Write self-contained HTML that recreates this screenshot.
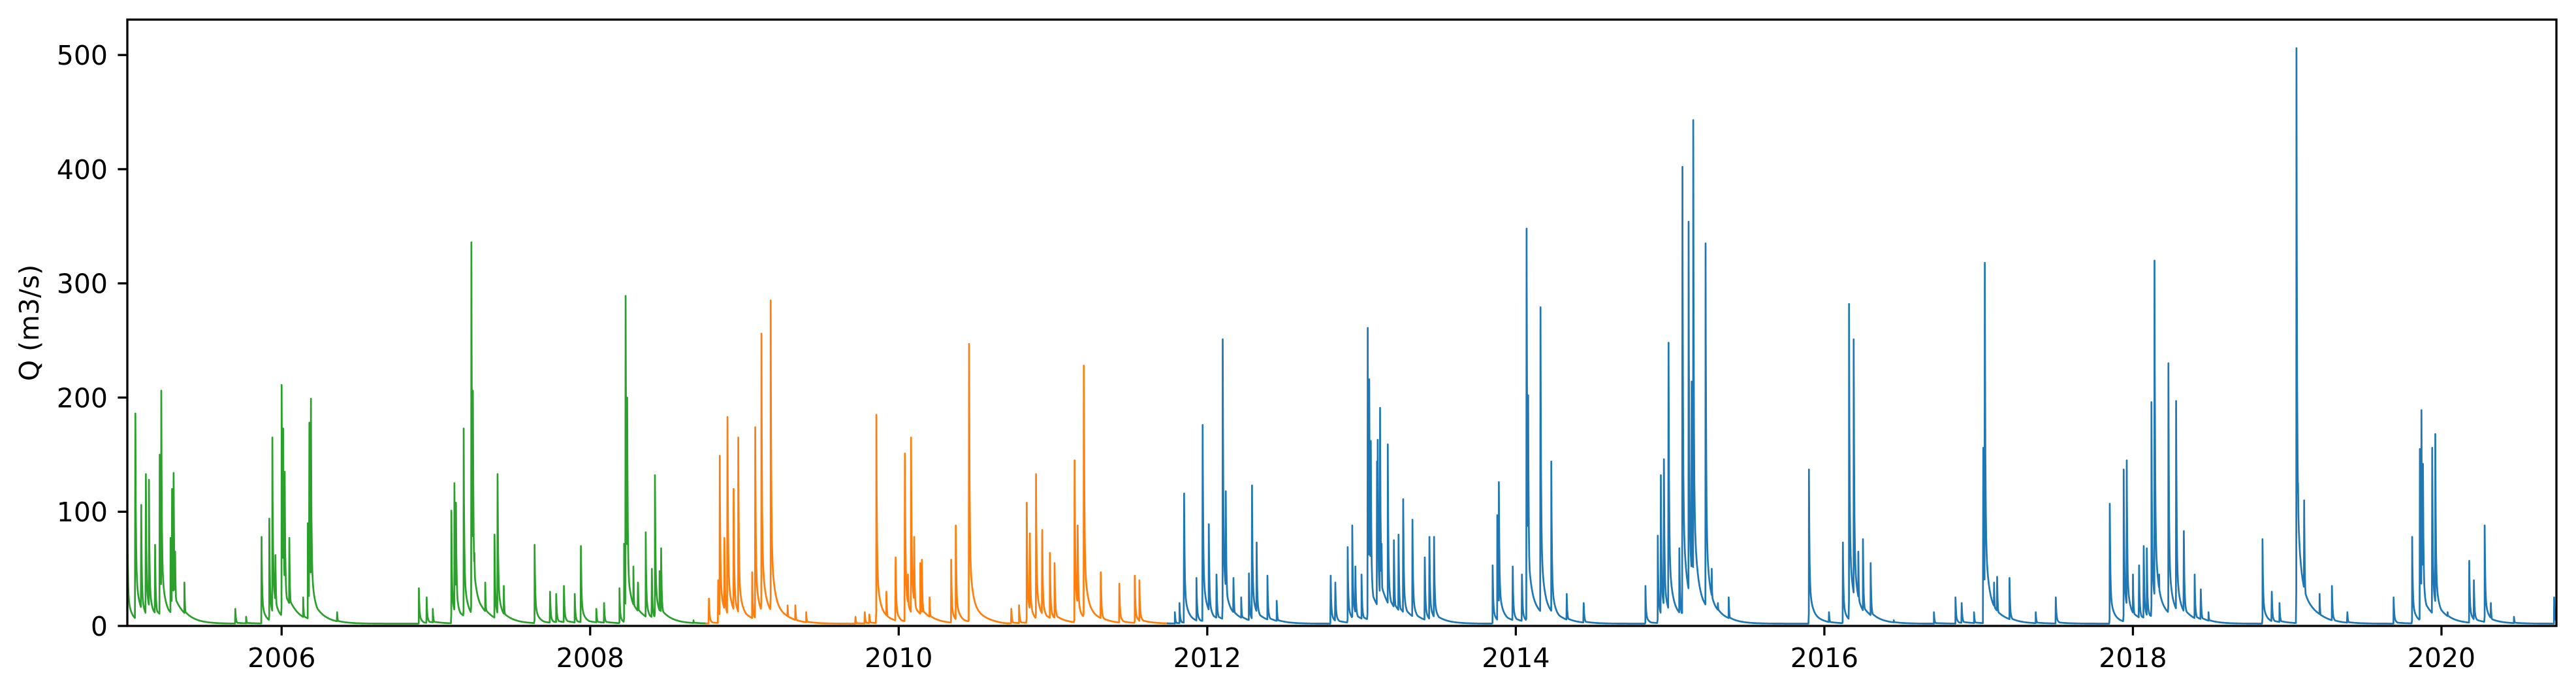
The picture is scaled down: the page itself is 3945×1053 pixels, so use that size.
<!DOCTYPE html>
<html>
<head>
<meta charset="utf-8">
<style>
html,body{margin:0;padding:0;background:#fff;}
svg{display:block;}
text{font-family:"DejaVu Sans","Liberation Sans",sans-serif;fill:#000;}
</style>
</head>
<body>
<svg id="chart" width="3945" height="1053" viewBox="0 0 3945 1053" xmlns="http://www.w3.org/2000/svg">
  <rect x="0" y="0" width="3945" height="1053" fill="#fff"/>
  <g id="plot"></g>
  <g id="axes"></g>
  <text x="48" y="494" font-size="41" text-anchor="middle" dominant-baseline="middle" transform="rotate(-90 48 494)">Q (m3/s)</text>
</svg>
<script>
// ---- data ----
const xTickLabels = [2006, 2008, 2010, 2012, 2014, 2016, 2018, 2020];
const yTickLabels = [0, 100, 200, 300, 400, 500];
const seriesNames = ["period-1", "period-2", "period-3"];
const seriesEnds = [2008.75, 2011.74, 2020.75];
// flood event dates (decimal years) and peak discharges (m3/s)
const eventDates = [
2005.0,2005.052,2005.09,2005.12,2005.14,2005.18,2005.21,2005.22,2005.28,2005.29,2005.30,2005.31,2005.37,2005.70,2005.77,
2005.87,2005.92,2005.94,2005.96,2006.0,2006.01,2006.02,2006.05,2006.14,2006.17,2006.18,2006.19,2006.36,
2006.89,2006.94,2006.98,2007.10,2007.12,2007.13,2007.18,2007.23,2007.24,2007.25,2007.32,2007.38,2007.40,2007.44,
2007.64,2007.74,2007.78,2007.83,2007.90,2007.94,2008.04,2008.09,2008.19,2008.22,2008.23,2008.24,2008.28,2008.31,2008.36,2008.40,2008.42,2008.45,2008.46,2008.67,
2008.77,2008.83,2008.84,2008.87,2008.89,2008.93,2008.96,2009.05,2009.07,2009.11,2009.17,2009.28,2009.33,2009.40,
2009.72,2009.78,2009.81,2009.855,2009.92,2009.98,2010.04,2010.06,2010.08,2010.10,2010.14,2010.15,2010.20,2010.34,2010.37,2010.456,
2010.73,2010.78,2010.83,2010.85,2010.89,2010.93,2010.98,2011.01,2011.14,2011.16,2011.20,2011.31,2011.43,2011.53,2011.56,
2011.79,2011.82,2011.85,2011.93,2011.97,2012.01,2012.06,2012.10,2012.12,2012.17,2012.22,2012.27,2012.29,2012.32,2012.39,2012.45,
2012.80,2012.83,2012.91,2012.94,2012.96,2013.00,2013.04,2013.05,2013.06,2013.10,2013.105,2013.12,2013.13,2013.17,2013.21,2013.24,2013.27,2013.33,2013.41,2013.44,2013.47,
2013.85,2013.88,2013.89,2013.98,2014.04,2014.07,2014.08,2014.16,2014.23,2014.33,2014.44,
2014.84,2014.92,2014.94,2014.96,2014.99,2015.06,2015.08,2015.12,2015.14,2015.15,2015.23,2015.27,2015.31,2015.38,
2015.90,2016.03,2016.12,2016.16,2016.19,2016.22,2016.25,2016.30,2016.45,2016.71,2016.85,2016.89,2016.97,
2017.03,2017.04,2017.10,2017.12,2017.20,2017.37,2017.50,
2017.85,2017.94,2017.96,2018.00,2018.04,2018.07,2018.09,2018.12,2018.14,2018.17,2018.23,2018.28,2018.33,2018.40,2018.44,2018.49,
2018.84,2018.90,2018.95,2019.06,2019.07,2019.11,2019.21,2019.29,2019.39,
2019.69,2019.81,2019.86,2019.87,2019.88,2019.94,2019.96,2020.04,2020.18,2020.21,2020.28,2020.32,2020.47,2020.73
];
const eventPeaks = [
105,186,106,133,128,71,150,206,77,120,134,65,38,15,8,
78,94,165,62,211,173,135,77,25,90,178,199,12,
33,25,15,101,125,108,173,336,206,64,38,80,133,35,
71,30,28,35,28,70,15,20,33,72,289,200,52,38,82,50,132,48,68,5,
24,40,149,77,183,120,165,47,174,256,285,18,18,12,
8,12,10,185,30,60,151,45,165,78,55,58,25,58,88,247,
15,18,108,81,133,84,64,55,145,88,228,47,37,44,40,
12,20,116,42,176,89,45,251,118,42,25,46,123,73,44,22,
44,38,69,88,52,45,261,216,162,144,163,191,72,159,75,80,111,93,60,78,78,
53,97,126,52,45,348,202,279,144,28,20,
35,79,132,146,248,68,402,354,214,443,335,50,20,25,
137,12,73,282,251,65,76,55,5,12,25,20,12,
156,318,38,43,42,12,25,
107,137,145,45,53,70,68,196,320,45,230,197,83,45,32,12,
76,30,20,506,125,110,28,35,12,
25,78,155,189,142,156,168,12,57,40,88,20,8,25
];
const baseFlow = [2];

// ---- layout ----
const L = 195, R = 3915, T = 30, B = 958;
const X0 = 2005.0, X1 = 2020.745, Y0 = 0, Y1 = 531;
const colors = ["#2ca02c", "#ff7f0e", "#1f77b4"];
function xs(t){ return L + (t - X0) / (X1 - X0) * (R - L); }
function ys(v){ return B - (v - Y0) / (Y1 - Y0) * (B - T); }

const NS = "http://www.w3.org/2000/svg";
const plot = document.getElementById("plot");
const axes = document.getElementById("axes");

// time grid: daily samples plus each event's own date so peaks are drawn exactly
const day = 1 / 365.25;
const grid = [];
for (let t = X0; t <= X1 + day; t += day) grid.push(t);
eventDates.forEach(d => grid.push(d));
grid.sort((a, b) => a - b);

// hydrograph: envelope (max) of each event's curve, floored by accumulated wet-season baseflow
function flowAt(t) {
  let q = baseFlow[0];
  let slow = baseFlow[0];
  for (let i = 0; i < eventDates.length; i++) {
    const dt = (t - eventDates[i]) * 365.25;
    const p = eventPeaks[i];
    if (dt < -1 || dt > 250) continue;
    let c;
    if (dt < 0) c = p * 0.1 * (1 + dt);
    else {
      c = p * (0.72 * Math.exp(-dt / 1.2) + 0.2 * Math.exp(-dt / 7) + 0.08 * Math.exp(-dt / 40));
      slow += p * 0.05 * Math.exp(-dt / 25);
    }
    if (c > q) q = c;
  }
  return Math.max(q, slow);
}
const times = [], flows = [];
grid.forEach(t => { times.push(t); flows.push(flowAt(t)); });

const clip = document.createElementNS(NS, "clipPath");
clip.setAttribute("id", "pc");
const cr = document.createElementNS(NS, "rect");
cr.setAttribute("x", L); cr.setAttribute("y", T);
cr.setAttribute("width", R - L); cr.setAttribute("height", B - T);
clip.appendChild(cr);
document.getElementById("chart").appendChild(clip);

let start = X0;
for (let s = 0; s < seriesNames.length; s++) {
  const end = seriesEnds[s];
  let d = "";
  for (let i = 0; i < times.length; i++) {
    const t = times[i];
    if (t < start - day || t > end) continue;
    d += (d ? "L" : "M") + xs(t).toFixed(1) + "," + ys(flows[i]).toFixed(1);
  }
  const path = document.createElementNS(NS, "path");
  path.setAttribute("d", d);
  path.setAttribute("fill", "none");
  path.setAttribute("stroke", colors[s]);
  path.setAttribute("stroke-width", "2.7");
  path.setAttribute("stroke-linejoin", "round");
  path.setAttribute("clip-path", "url(#pc)");
  
  
  plot.appendChild(path);
  start = end;
}

// frame
const frame = document.createElementNS(NS, "rect");
frame.setAttribute("x", L); frame.setAttribute("y", T);
frame.setAttribute("width", R - L); frame.setAttribute("height", B - T);
frame.setAttribute("fill", "none"); frame.setAttribute("stroke", "#000"); frame.setAttribute("stroke-width", "3.3");


axes.appendChild(frame);

// y ticks
yTickLabels.forEach(v => {
  const y = ys(v);
  const ln = document.createElementNS(NS, "line");
  ln.setAttribute("x1", L - 14.6); ln.setAttribute("x2", L);
  ln.setAttribute("y1", y); ln.setAttribute("y2", y);
  ln.setAttribute("stroke", "#000"); ln.setAttribute("stroke-width", "3.3");
  
  
  axes.appendChild(ln);
  const tx = document.createElementNS(NS, "text");
  tx.setAttribute("x", L - 30); tx.setAttribute("y", y + 15);
  tx.setAttribute("font-size", "41"); tx.setAttribute("text-anchor", "end");
  tx.textContent = v;
  
  
  axes.appendChild(tx);
});

// x ticks
xTickLabels.forEach(v => {
  const x = xs(v);
  const ln = document.createElementNS(NS, "line");
  ln.setAttribute("x1", x); ln.setAttribute("x2", x);
  ln.setAttribute("y1", B); ln.setAttribute("y2", B + 14.6);
  ln.setAttribute("stroke", "#000"); ln.setAttribute("stroke-width", "3.3");
  
  
  axes.appendChild(ln);
  const tx = document.createElementNS(NS, "text");
  tx.setAttribute("x", x); tx.setAttribute("y", B + 63);
  tx.setAttribute("font-size", "41"); tx.setAttribute("text-anchor", "middle");
  tx.textContent = v;
  
  
  axes.appendChild(tx);
});
</script>
</body>
</html>
